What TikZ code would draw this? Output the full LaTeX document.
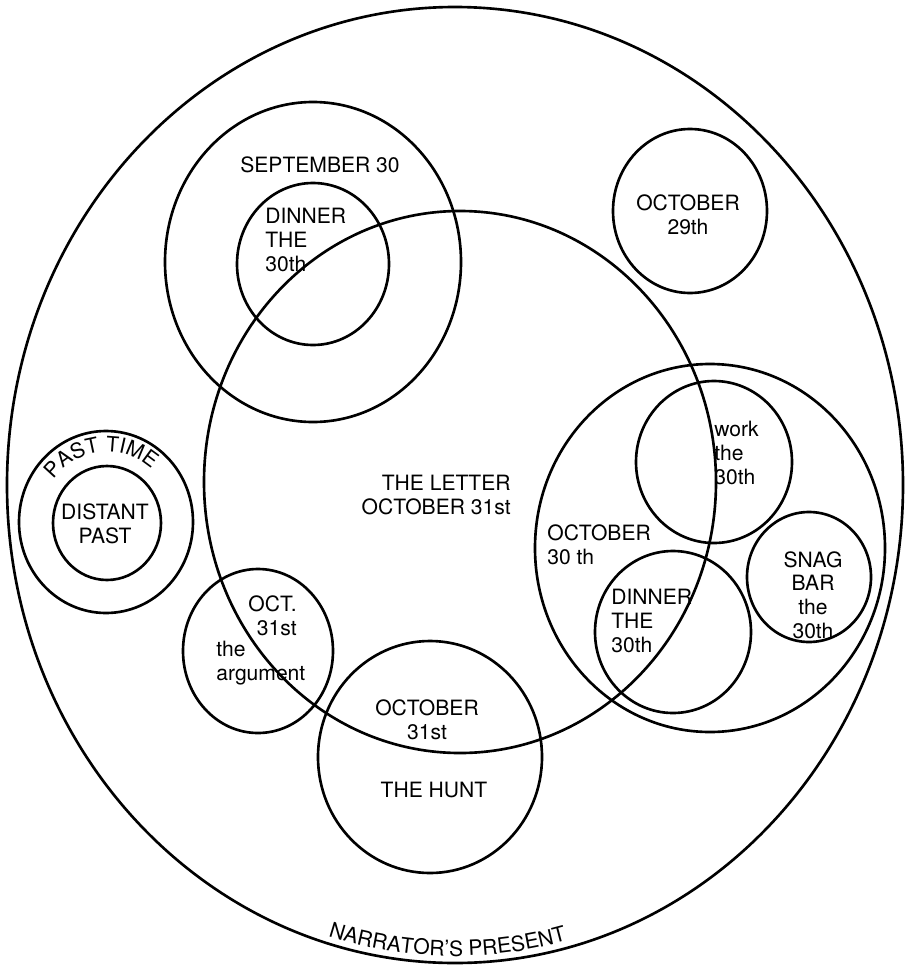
\documentclass[tikz,border=0pt]{standalone}
\usepackage{fontspec}
\setmainfont{TeX Gyre Heros}
\usepackage{tikz}
\usetikzlibrary{decorations.text}

\newcommand{\arcfont}{\fontsize{12}{14}\selectfont}

\begin{document}
\begin{tikzpicture}[x=0.02cm, y=-0.02cm,
        ring/.style={line width=1.5pt},
        lbl/.style={font=\fontsize{12}{13.5}\selectfont, inner sep=0pt}]
    \useasboundingbox (0,0) rectangle (907,967);

    % the rings
    \draw[ring] (455,485) ellipse [x radius=448, y radius=478];
    \draw[ring] (313,262) ellipse [x radius=148, y radius=160];
    \draw[ring] (313,264) ellipse [x radius=76, y radius=81];
    \draw[ring] (460,482) ellipse [x radius=256, y radius=271];
    \draw[ring] (690,211) ellipse [x radius=77, y radius=82];
    \draw[ring] (106,522) ellipse [x radius=87, y radius=91];
    \draw[ring] (107,523) ellipse [x radius=54, y radius=57];
    \draw[ring] (258,651) ellipse [x radius=75, y radius=82];
    \draw[ring] (430,757) ellipse [x radius=112, y radius=116];
    \draw[ring] (710,548) ellipse [x radius=175, y radius=184];
    \draw[ring] (714,462) ellipse [x radius=78, y radius=81];
    \draw[ring] (673,632) ellipse [x radius=78, y radius=81];
    \draw[ring] (809,577) ellipse [x radius=62, y radius=65];

    % labels
    \node[lbl] (sept) at (320,165) {SEPTEMBER 30};
    \node[lbl, align=left, anchor=west] (dinA) at (265,240) {DINNER\\THE\\30th};
    \node[lbl, align=center] (octA) at (688,215) {OCTOBER\\29th};
    \node[lbl, align=right, anchor=east] (letter) at (511,495) {THE LETTER\\OCTOBER 31st};
    \node[lbl, align=center] (distant) at (105,524) {DISTANT\\PAST};
    \node[lbl, align=right, anchor=east] (argA) at (297,616) {OCT.\\31st};
    \node[lbl, align=left, anchor=west] (argB) at (216,663) {the\\argument};
    \node[lbl, align=center] (huntA) at (427,720) {OCTOBER\\31st};
    \node[lbl] (huntB) at (434,790) {THE HUNT};
    \node[lbl, align=left, anchor=west] (octB) at (547,545) {OCTOBER\\30 th};
    \node[lbl, align=left, anchor=west] (work) at (714,453) {work\\the\\30th};
    \node[lbl, align=left, anchor=west] (dinB) at (611,621) {DINNER\\THE\\30th};
    \node[lbl, align=center] (snag) at (813,595) {SNAG\\BAR\\the\\30th};

    % curved labels
    \path[decorate, decoration={text along path, text align=center,
            text={|\arcfont|PAST TIME}}]
        (107,523) ++(-152:68 and 71) arc [start angle=-152, end angle=-39, x radius=68, y radius=71];
    \path[decorate, decoration={text along path, text align=center,
            text={|\arcfont|NARRATOR'S PRESENT}}]
        (455,485) ++(116:441 and 471) arc [start angle=116, end angle=66, x radius=441, y radius=471];
\end{tikzpicture}
\end{document}
